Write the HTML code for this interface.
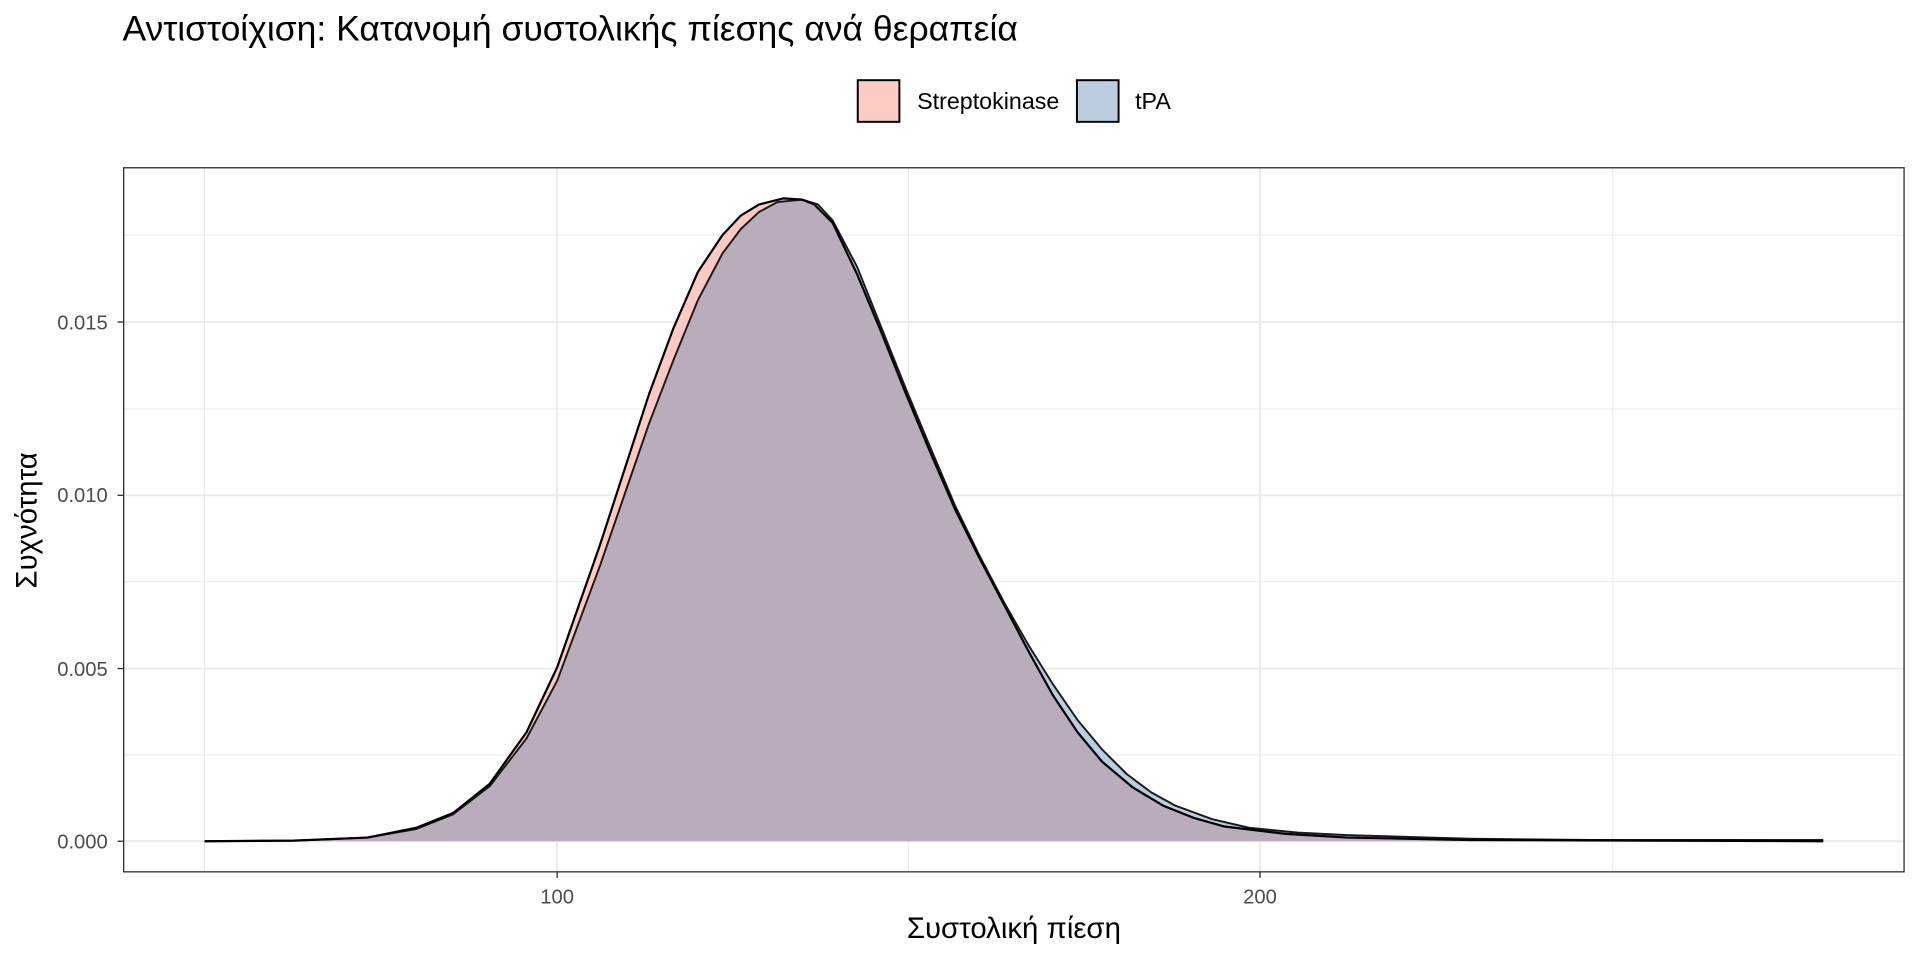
<!DOCTYPE html>
<html><head><meta charset="utf-8"><style>html,body{margin:0;padding:0;background:#fff}svg{display:block}text{font-family:"Liberation Sans","DejaVu Sans",sans-serif}</style></head>
<body>
<svg width="1920" height="960" viewBox="0 0 1568 784" xmlns="http://www.w3.org/2000/svg">
<rect width="1568" height="784" fill="#fff"/>
<text x="100" y="33" font-size="29" fill="#000">Αντιστοίχιση: Κατανομή συστολικής πίεσης ανά θεραπεία</text>
<rect x="700.5" y="65.5" width="34" height="34" fill="#ffcbc4" stroke="#000" stroke-width="1.6"/>
<text x="749" y="89" font-size="19">Streptokinase</text>
<rect x="879.5" y="65.5" width="34" height="34" fill="#bccddf" stroke="#000" stroke-width="1.6"/>
<text x="927" y="89" font-size="19">tPA</text>
<g stroke="#ebebeb">
<g stroke-width="0.8"><line x1="101" x2="1555" y1="616.5" y2="616.5"/><line x1="101" x2="1555" y1="475" y2="475"/><line x1="101" x2="1555" y1="334" y2="334"/><line x1="101" x2="1555" y1="192" y2="192"/>
<line y1="137" y2="712" x1="167" x2="167"/><line y1="137" y2="712" x1="742" x2="742"/><line y1="137" y2="712" x1="1317" x2="1317"/></g>
<g stroke-width="1.6"><line x1="101" x2="1555" y1="687" y2="687"/><line x1="101" x2="1555" y1="546" y2="546"/><line x1="101" x2="1555" y1="404.5" y2="404.5"/><line x1="101" x2="1555" y1="263" y2="263"/>
<line y1="137" y2="712" x1="455" x2="455"/><line y1="137" y2="712" x1="1029" x2="1029"/></g>
</g>
<defs><clipPath id="cs"><path d="M167,687 L240,686.5 L300,684 L340,676 L370,664 L400,640 L430,598 L455,545 L490,445 L530,322 L550,268 L570,222 L590,192 L605,176 L620,167 L640,162 L655,163 L665,167 L680,182 L700,224 L720,272 L740,322 L760,370 L780,416 L800,456 L820,494 L840,532 L860,568 L880,598 L900,622 L925,643 L950,658 L975,668 L1000,675 L1050,681 L1100,684 L1200,686 L1489,687 Z"/></clipPath></defs>
<path fill="#bccddf" d="M167,687 L240,686.5 L300,684 L340,677 L370,665 L400,642 L430,603 L455,556 L490,462 L530,346 L550,294 L570,245 L590,207 L605,187 L620,173 L635,165 L655,163 L668,167 L680,180 L700,218 L720,268 L740,318 L760,366 L780,413 L800,454 L820,492 L840,527 L860,559 L880,588 L900,612 L920,632 L940,647 L960,658 L990,669 L1020,676 L1060,680 L1100,682 L1200,685 L1300,686 L1489,686 L1489,687 L167,687 Z"/>
<path fill="#fdc9c2" d="M167,687 L240,686.5 L300,684 L340,676 L370,664 L400,640 L430,598 L455,545 L490,445 L530,322 L550,268 L570,222 L590,192 L605,176 L620,167 L640,162 L655,163 L665,167 L680,182 L700,224 L720,272 L740,322 L760,370 L780,416 L800,456 L820,494 L840,532 L860,568 L880,598 L900,622 L925,643 L950,658 L975,668 L1000,675 L1050,681 L1100,684 L1200,686 L1489,687 Z"/>
<path fill="#b9adbc" clip-path="url(#cs)" d="M167,687 L240,686.5 L300,684 L340,677 L370,665 L400,642 L430,603 L455,556 L490,462 L530,346 L550,294 L570,245 L590,207 L605,187 L620,173 L635,165 L655,163 L668,167 L680,180 L700,218 L720,268 L740,318 L760,366 L780,413 L800,454 L820,492 L840,527 L860,559 L880,588 L900,612 L920,632 L940,647 L960,658 L990,669 L1020,676 L1060,680 L1100,682 L1200,685 L1300,686 L1489,686 L1489,687 L167,687 Z"/>
<path fill="none" stroke="#1a1a1a" stroke-width="1.6" stroke-linejoin="round" d="M167,687 L240,686.5 L300,684 L340,677 L370,665 L400,642 L430,603 L455,556 L490,462 L530,346 L550,294 L570,245 L590,207 L605,187 L620,173 L635,165 L655,163 L668,167 L680,180 L700,218 L720,268 L740,318 L760,366 L780,413 L800,454 L820,492 L840,527 L860,559 L880,588 L900,612 L920,632 L940,647 L960,658 L990,669 L1020,676 L1060,680 L1100,682 L1200,685 L1300,686 L1489,686"/>
<path fill="none" stroke="#000" stroke-width="1.8" stroke-linejoin="round" d="M167,687 L240,686.5 L300,684 L340,676 L370,664 L400,640 L430,598 L455,545 L490,445 L530,322 L550,268 L570,222 L590,192 L605,176 L620,167 L640,162 L655,163 L665,167 L680,182 L700,224 L720,272 L740,322 L760,370 L780,416 L800,456 L820,494 L840,532 L860,568 L880,598 L900,622 L925,643 L950,658 L975,668 L1000,675 L1050,681 L1100,684 L1200,686 L1489,687"/>
<rect x="101" y="137" width="1454" height="575" fill="none" stroke="#333" stroke-width="1.1"/>
<g font-size="16.5" fill="#4d4d4d" text-anchor="end">
<text x="88" y="693">0.000</text><text x="88" y="552">0.005</text><text x="88" y="410">0.010</text><text x="88" y="269">0.015</text></g>
<g stroke="#333" stroke-width="1.1"><line x1="96" x2="101" y1="687" y2="687"/><line x1="96" x2="101" y1="546" y2="546"/><line x1="96" x2="101" y1="404.5" y2="404.5"/><line x1="96" x2="101" y1="263" y2="263"/>
<line x1="455" x2="455" y1="712" y2="717"/><line x1="1029" x2="1029" y1="712" y2="717"/></g>
<g font-size="16.5" fill="#4d4d4d" text-anchor="middle"><text x="455" y="738">100</text><text x="1029" y="738">200</text></g>
<text x="828" y="766" font-size="24" text-anchor="middle">Συστολική πίεση</text>
<text transform="translate(30,425) rotate(-90)" font-size="24" text-anchor="middle">Συχνότητα</text>
</svg>
</body></html>
